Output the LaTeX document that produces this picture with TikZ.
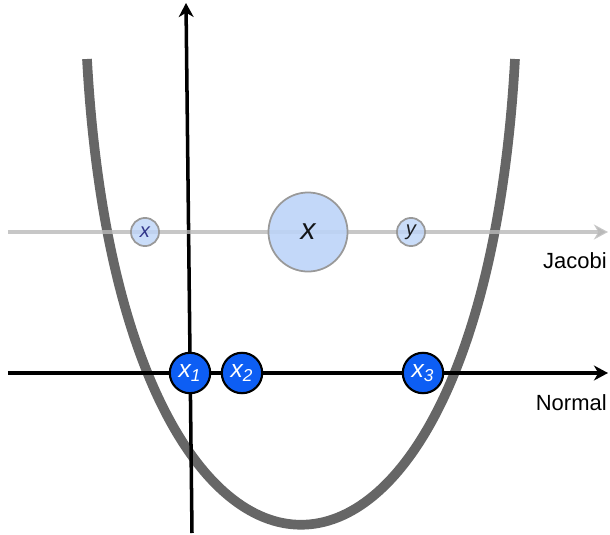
\documentclass[tikz,border=0pt]{standalone}
\usepackage{fontspec}
\setmainfont{Liberation Sans}
\definecolor{JacFill}{HTML}{BDD4F8}
\definecolor{NormFill}{HTML}{0D5EF4}
\definecolor{CurveGray}{HTML}{666666}
\usetikzlibrary{arrows.meta}

\begin{document}
\begin{tikzpicture}[x=0.02cm, y=-0.02cm,
  >={Stealth[length=8pt, width=8.5pt, inset=2.5pt]},
  jacnode/.style={draw=gray!80, line width=1pt, circle, fill=JacFill,
                  inner sep=0pt, font=\itshape},
  normnode/.style={draw=black, line width=1.2pt, circle, fill=NormFill,
                   minimum size=23pt, inner sep=0pt, text=white,
                   font=\fontsize{14}{14}\selectfont\itshape},
  axislabel/.style={anchor=east, inner sep=0pt, font=\fontsize{12.5}{14}\selectfont}]
  \useasboundingbox (0,0) rectangle (610,535);
  % the cost curve
  \draw[CurveGray, line width=5.5pt] (87,59) .. controls (121,680) and (481,680) .. (515,59);
  % axes
  \coordinate (vbot) at (192,533);
  \coordinate (vtop) at (186,3);
  \coordinate (jstart) at (8,232);
  \coordinate (jend) at (608,232);
  \coordinate (nstart) at (8,373);
  \coordinate (nend) at (608,373);
  \draw[->, line width=2pt] (vbot) -- (vtop);
  \draw[->, line width=2pt, gray!55, draw opacity=0.8] (jstart) -- (jend);
  \draw[->, line width=2pt] (nstart) -- (nend);
  \node[axislabel] (jac) at (607,261) {Jacobi};
  \node[axislabel] (norm) at (607,403) {Normal};
  % Jacobi points
  \node[jacnode, minimum size=16pt, fill opacity=0.8, text opacity=0.75,
        text=blue!40!black, font=\fontsize{11.5}{11}\selectfont\itshape] (xs) at (145,232) {x};
  \node[jacnode, minimum size=45pt, fill opacity=0.9,
        font=\fontsize{17}{17}\selectfont\itshape] (xbig) at (308,232) {x};
  \node[jacnode, minimum size=16pt, fill opacity=0.8, text opacity=0.85,
        font=\fontsize{11.5}{11}\selectfont\itshape] (yn) at (411,232) {y};
  % Normal points
  \node[normnode] (xa) at (190,373) {x\textsubscript{1}};
  \node[normnode] (xb) at (242,373) {x\textsubscript{2}};
  \node[normnode] (xc) at (423,373) {x\textsubscript{3}};
\end{tikzpicture}
\end{document}
